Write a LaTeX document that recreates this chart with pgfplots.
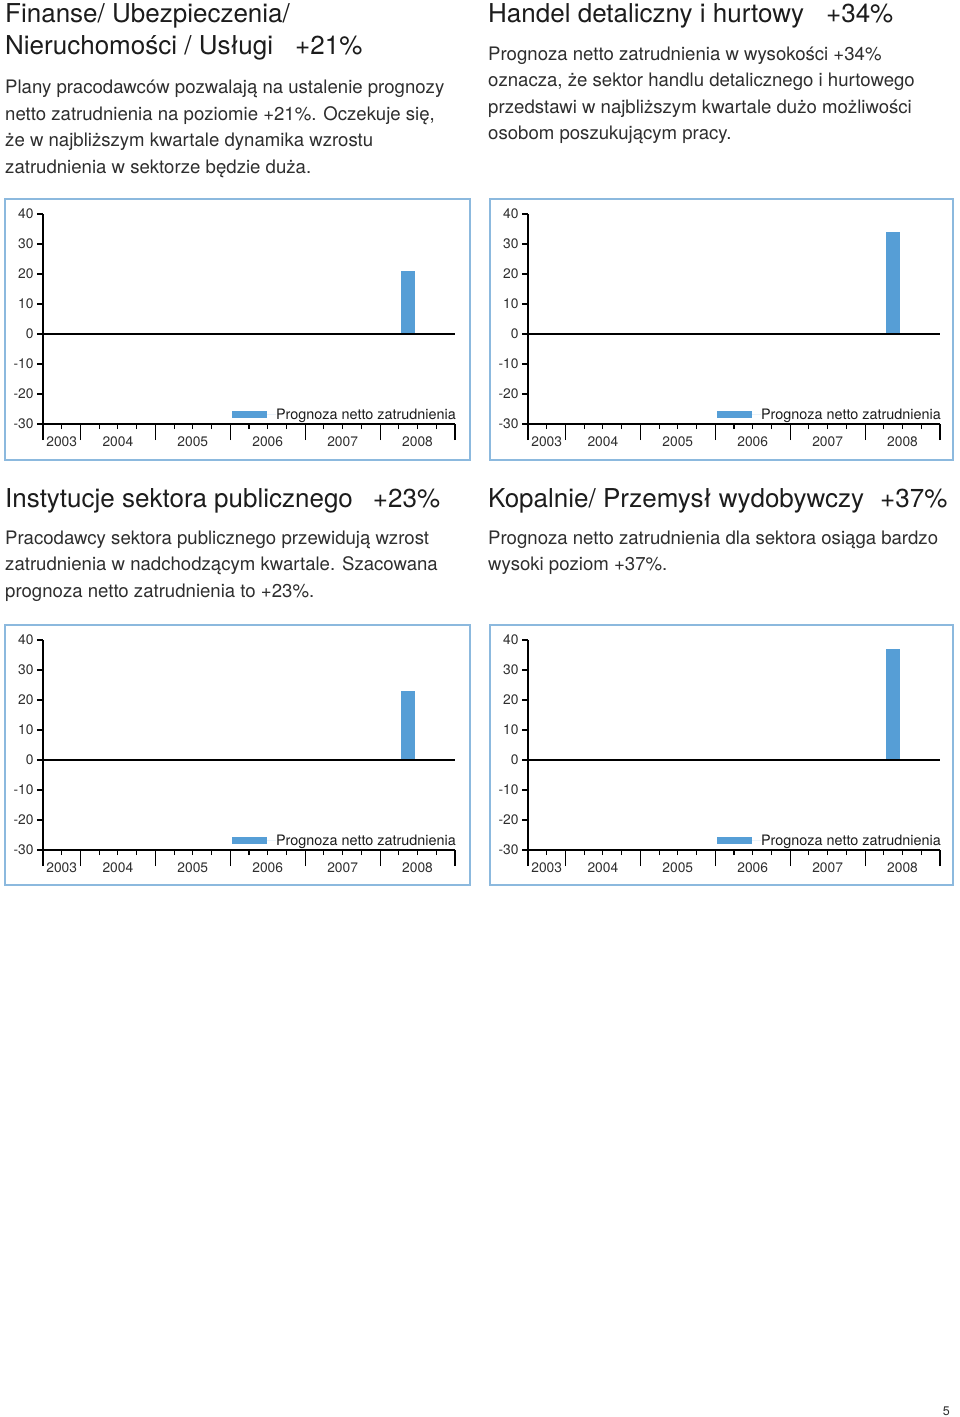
\documentclass[border=0pt]{standalone}
\usepackage{fontspec}
\setmainfont{TeX Gyre Heros}
\usepackage{pgfplots}
\pgfplotsset{compat=1.18}
\definecolor{barblue}{HTML}{569ED6}
\definecolor{framecol}{HTML}{8CB9DE}
\definecolor{txt}{HTML}{2E2E2E}
\definecolor{ttl}{HTML}{1C1C1C}

\newcommand\ttlfont{\fontsize{26}{31}\selectfont\color{ttl}}
\newcommand\bodyfont{\fontsize{18.6}{22}\selectfont\color{txt}}
\newcommand\smallfont{\fontsize{13.8}{16}\selectfont}
\newcommand\legfont{\fontsize{14.4}{17}\selectfont}

\pgfplotsset{
  frame/.style={
    scale only axis, width=412pt, height=210pt,
    xmin=0, xmax=22, ymin=-30, ymax=40, clip=false},
  panel/.style={
    frame,
    axis x line=bottom, axis y line=left,
    axis line style={-, line width=1.2pt, black},
    tick align=outside,
    major tick length=6pt,
    every tick/.style={black, line width=1.1pt},
    ytick={-30,-20,...,40},
    xtick={1,4,8,12,16,20},
    xticklabels={2003,2004,2005,2006,2007,2008},
    x tick style={draw=none},
    xticklabel style={yshift=-3pt},
    tick label style={font=\smallfont, text=txt},
    /pgf/number format/assume math mode=true,
    legend style={at={(axis cs:22,-30)}, anchor=south east, xshift=1pt, yshift=3pt,
      draw=none, fill=none, inner sep=0pt, font=\legfont, text=ttl,
      nodes={inner sep=0pt}},
    legend image code/.code={
      \fill[barblue] (0pt,-3.5pt) rectangle (35pt,3.5pt);
      \path (0pt,0pt) -- (44pt,0pt);},
  },
  % quarter and year ticks along the bottom
  quarters/.style={
    frame,
    axis y line=none, axis x line=bottom,
    axis line style={draw=none},
    tick align=outside,
    major tick length=16pt, minor tick length=5pt,
    every tick/.style={black, line width=1.1pt},
    xtick={0,2,6,10,14,18,22}, xticklabels={},
    minor xtick={1,3,4,5,7,8,9,11,12,13,15,16,17,19,20,21},
  },
}

\begin{document}
\begin{tikzpicture}
\fill[white] (0pt,0pt) rectangle (960pt,-1417pt);
\path[use as bounding box] (0pt,0pt) rectangle (960pt,-1417pt);

% headings and text
\node[anchor=base west, inner sep=0pt, font=\ttlfont] at (5pt,-22pt) {Finanse/ Ubezpieczenia/};
\node[anchor=base west, inner sep=0pt, font=\ttlfont] at (5pt,-54pt) {Nieruchomości / Usługi\hspace{22pt}+21\%};
\node[anchor=base west, inner sep=0pt, font=\bodyfont] at (5pt,-93pt) {Plany pracodawców pozwalają na ustalenie prognozy};
\node[anchor=base west, inner sep=0pt, font=\bodyfont] at (5pt,-120pt) {netto zatrudnienia na poziomie +21\%. Oczekuje się,};
\node[anchor=base west, inner sep=0pt, font=\bodyfont] at (5pt,-146pt) {że w najbliższym kwartale dynamika wzrostu};
\node[anchor=base west, inner sep=0pt, font=\bodyfont] at (5pt,-173pt) {zatrudnienia w sektorze będzie duża.};

\node[anchor=base west, inner sep=0pt, font=\ttlfont] at (488pt,-22pt) {Handel detaliczny i hurtowy\hspace{22pt}+34\%};
\node[anchor=base west, inner sep=0pt, font=\bodyfont] at (488pt,-60pt) {Prognoza netto zatrudnienia w wysokości +34\%};
\node[anchor=base west, inner sep=0pt, font=\bodyfont] at (488pt,-86pt) {oznacza, że sektor handlu detalicznego i hurtowego};
\node[anchor=base west, inner sep=0pt, font=\bodyfont] at (488pt,-113pt) {przedstawi w najbliższym kwartale dużo możliwości};
\node[anchor=base west, inner sep=0pt, font=\bodyfont] at (488pt,-139pt) {osobom poszukującym pracy.};

\node[anchor=base west, inner sep=0pt, font=\ttlfont] at (5pt,-507pt) {Instytucje sektora publicznego\hspace{20pt}+23\%};
\node[anchor=base west, inner sep=0pt, font=\bodyfont] at (5pt,-544pt) {Pracodawcy sektora publicznego przewidują wzrost};
\node[anchor=base west, inner sep=0pt, font=\bodyfont] at (5pt,-570pt) {zatrudnienia w nadchodzącym kwartale. Szacowana};
\node[anchor=base west, inner sep=0pt, font=\bodyfont] at (5pt,-597pt) {prognoza netto zatrudnienia to +23\%.};

\node[anchor=base west, inner sep=0pt, font=\ttlfont] at (488pt,-507pt) {Kopalnie/ Przemysł wydobywczy\hspace{16pt}+37\%};
\node[anchor=base west, inner sep=0pt, font=\bodyfont] at (488pt,-544pt) {Prognoza netto zatrudnienia dla sektora osiąga bardzo};
\node[anchor=base west, inner sep=0pt, font=\bodyfont] at (488pt,-570pt) {wysoki poziom +37\%.};

\node[anchor=base east, inner sep=0pt, font=\fontsize{12.5}{14}\selectfont\color{txt}] at (950pt,-1415pt) {5};

% frames
\draw[framecol, line width=2pt] (5pt,-199pt) rectangle (470pt,-460pt);
\draw[framecol, line width=2pt] (490pt,-199pt) rectangle (953pt,-460pt);
\draw[framecol, line width=2pt] (5pt,-625pt) rectangle (470pt,-885pt);
\draw[framecol, line width=2pt] (490pt,-625pt) rectangle (953pt,-885pt);

% Finanse
\begin{axis}[panel, at={(43pt,-424pt)}, anchor=south west]
\addplot[ybar, bar width=14pt, fill=barblue, draw=none] coordinates {(19.5,21)};
\addlegendentry{Prognoza netto zatrudnienia}
\draw[line width=1.2pt] (axis cs:0,0) -- (axis cs:22,0);
\end{axis}
\begin{axis}[quarters, at={(43pt,-424pt)}, anchor=south west]
\end{axis}

% Handel
\begin{axis}[panel, at={(528pt,-424pt)}, anchor=south west]
\addplot[ybar, bar width=14pt, fill=barblue, draw=none] coordinates {(19.5,34)};
\addlegendentry{Prognoza netto zatrudnienia}
\draw[line width=1.2pt] (axis cs:0,0) -- (axis cs:22,0);
\end{axis}
\begin{axis}[quarters, at={(528pt,-424pt)}, anchor=south west]
\end{axis}

% Instytucje publiczne
\begin{axis}[panel, at={(43pt,-850pt)}, anchor=south west]
\addplot[ybar, bar width=14pt, fill=barblue, draw=none] coordinates {(19.5,23)};
\addlegendentry{Prognoza netto zatrudnienia}
\draw[line width=1.2pt] (axis cs:0,0) -- (axis cs:22,0);
\end{axis}
\begin{axis}[quarters, at={(43pt,-850pt)}, anchor=south west]
\end{axis}

% Kopalnie
\begin{axis}[panel, at={(528pt,-850pt)}, anchor=south west]
\addplot[ybar, bar width=14pt, fill=barblue, draw=none] coordinates {(19.5,37)};
\addlegendentry{Prognoza netto zatrudnienia}
\draw[line width=1.2pt] (axis cs:0,0) -- (axis cs:22,0);
\end{axis}
\begin{axis}[quarters, at={(528pt,-850pt)}, anchor=south west]
\end{axis}
\end{tikzpicture}
\end{document}
